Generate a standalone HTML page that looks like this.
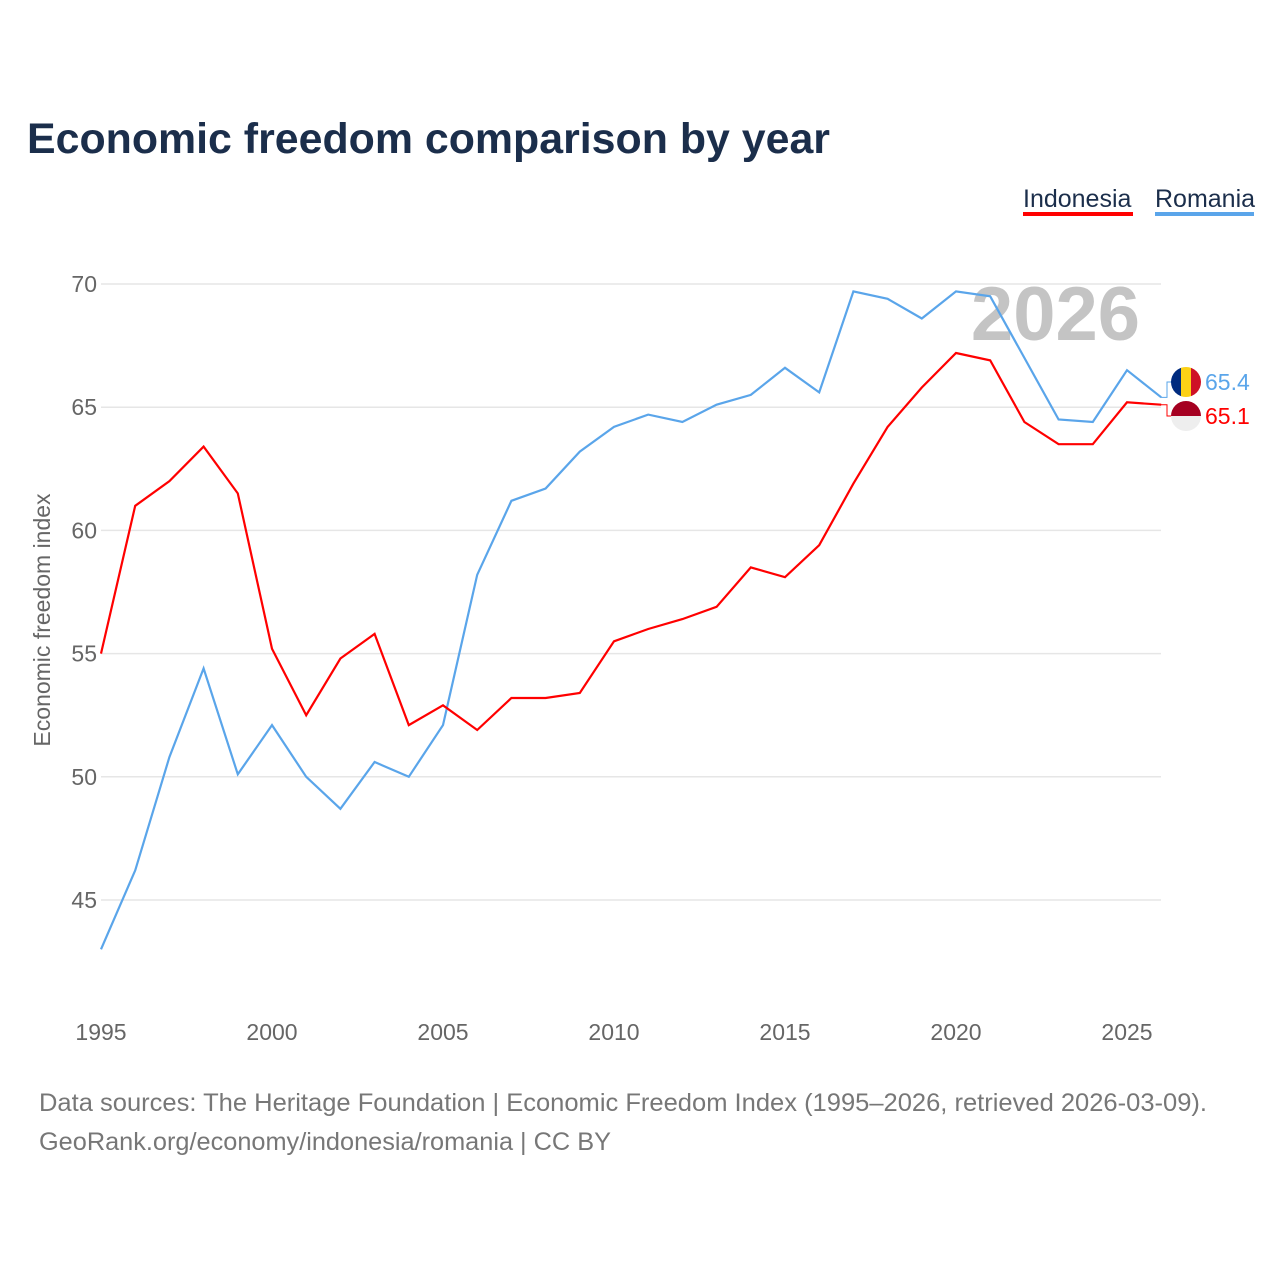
<!DOCTYPE html>
<html><head><meta charset="utf-8">
<style>
body{margin:0;background:#fff;font-family:"Liberation Sans",sans-serif;}
#wrap{position:relative;width:1280px;height:1280px;overflow:hidden;}
</style></head>
<body>
<div id="wrap">
<svg id="chart" width="1280" height="1280" xmlns="http://www.w3.org/2000/svg"></svg>
</div>
<script>
const years=[1995,1996,1997,1998,1999,2000,2001,2002,2003,2004,2005,2006,2007,2008,2009,2010,2011,2012,2013,2014,2015,2016,2017,2018,2019,2020,2021,2022,2023,2024,2025,2026];
const indonesia=[55.0,61.0,62.0,63.4,61.5,55.2,52.5,54.8,55.8,52.1,52.9,51.9,53.2,53.2,53.4,55.5,56.0,56.4,56.9,58.5,58.1,59.4,61.9,64.2,65.8,67.2,66.9,64.4,63.5,63.5,65.2,65.1];
const romania=[43.0,46.2,50.8,54.4,50.1,52.1,50.0,48.7,50.6,50.0,52.1,58.2,61.2,61.7,63.2,64.2,64.7,64.4,65.1,65.5,66.6,65.6,69.7,69.4,68.6,69.7,69.5,67.0,64.5,64.4,66.5,65.4];
const yTicks=[45,50,55,60,65,70];
const xTicks=[1995,2000,2005,2010,2015,2020,2025];

const NS="http://www.w3.org/2000/svg";
const svg=document.getElementById('chart');
const X=y=>101+(y-1995)*(1026/30);
const Y=v=>284+(70-v)*(616/25);
function el(tag,attrs,text){const e=document.createElementNS(NS,tag);for(const k in attrs)e.setAttribute(k,attrs[k]);if(text!==undefined)e.textContent=text;svg.appendChild(e);return e;}

let t=el('text',{x:27,y:153,'font-size':43,'font-weight':'bold',fill:'#1b2e4b',textLength:803,lengthAdjust:'spacingAndGlyphs'},'Economic freedom comparison by year');



t=el('text',{x:1023,y:207,'font-size':25,fill:'#1b2e4b'},'Indonesia');


t=el('rect',{x:1023,y:212,width:110,height:4,fill:'#ff0000'});


t=el('text',{x:1155,y:207,'font-size':25,fill:'#1b2e4b'},'Romania');


t=el('rect',{x:1155,y:212,width:99,height:4,fill:'#5aa5ea'});



yTicks.forEach(v=>{
  const g=el('line',{x1:101,x2:1161,y1:Y(v),y2:Y(v),stroke:'#e6e6e6','stroke-width':1.5});
  
  
  const l=el('text',{x:97,y:Y(v)+8,'font-size':23,fill:'#666','text-anchor':'end'},String(v));
  
  
});
xTicks.forEach(yr=>{
  const l=el('text',{x:X(yr),y:1040,'font-size':23,fill:'#666','text-anchor':'middle'},String(yr));
  
  
});
t=el('text',{transform:'translate(50,620) rotate(-90)','font-size':23,fill:'#666','text-anchor':'middle'},'Economic freedom index');



t=el('text',{x:1140,y:340,'font-size':76,'font-weight':'bold',fill:'#c4c4c4','text-anchor':'end'},'2026');



function series(data,color,name){
  const p=el('path',{d:data.map((v,i)=>(i?'L':'M')+X(years[i]).toFixed(1)+','+Y(v).toFixed(1)).join(''),fill:'none',stroke:color,'stroke-width':2.2});
  
  
}
series(romania,'#5aa5ea','romania');
series(indonesia,'#ff0000','indonesia');

const rLast=romania[romania.length-1], iLast=indonesia[indonesia.length-1];
const rLY=382, iLY=416;
el('path',{d:`M1161,${Y(rLast)} h6 V${rLY} h6`,fill:'none',stroke:'#5aa5ea','stroke-width':1});
el('path',{d:`M1161,${Y(iLast)} h6 V${iLY} h6`,fill:'none',stroke:'#ff0000','stroke-width':1});
let cx=1186;
const defs=el('defs',{});
const cp=document.createElementNS(NS,'clipPath');cp.setAttribute('id','cr');
const cc=document.createElementNS(NS,'circle');cc.setAttribute('cx',cx);cc.setAttribute('cy',rLY);cc.setAttribute('r',15);cp.appendChild(cc);defs.appendChild(cp);
const cp2=document.createElementNS(NS,'clipPath');cp2.setAttribute('id','ci');
const cc2=document.createElementNS(NS,'circle');cc2.setAttribute('cx',cx);cc2.setAttribute('cy',iLY);cc2.setAttribute('r',15);cp2.appendChild(cc2);defs.appendChild(cp2);
const fr=el('g',{'clip-path':'url(#cr)'});


[['#002b7f',0],['#fcd116',10],['#ce1126',20]].forEach(([c,o])=>{const r=document.createElementNS(NS,'rect');r.setAttribute('x',cx-15+o);r.setAttribute('y',rLY-15);r.setAttribute('width',10.5);r.setAttribute('height',30);r.setAttribute('fill',c);fr.appendChild(r);});
const fi=el('g',{'clip-path':'url(#ci)'});


[['#a50021',0],['#eeeeee',15]].forEach(([c,o])=>{const r=document.createElementNS(NS,'rect');r.setAttribute('x',cx-15);r.setAttribute('y',iLY-15+o);r.setAttribute('width',30);r.setAttribute('height',15);r.setAttribute('fill',c);fi.appendChild(r);});
svg.appendChild(fr);
t=el('text',{x:1205,y:rLY+8,'font-size':23,fill:'#5aa5ea'},rLast.toFixed(1));


t=el('text',{x:1205,y:iLY+8,'font-size':23,fill:'#ff0000'},iLast.toFixed(1));



t=el('text',{x:39,y:1111,'font-size':25,fill:'#777',textLength:1168,lengthAdjust:'spacingAndGlyphs'},'Data sources: The Heritage Foundation | Economic Freedom Index (1995–2026, retrieved 2026-03-09).');


t=el('text',{x:39,y:1150,'font-size':25,fill:'#777',textLength:572,lengthAdjust:'spacingAndGlyphs'},'GeoRank.org/economy/indonesia/romania | CC BY');


</script>
</body></html>
